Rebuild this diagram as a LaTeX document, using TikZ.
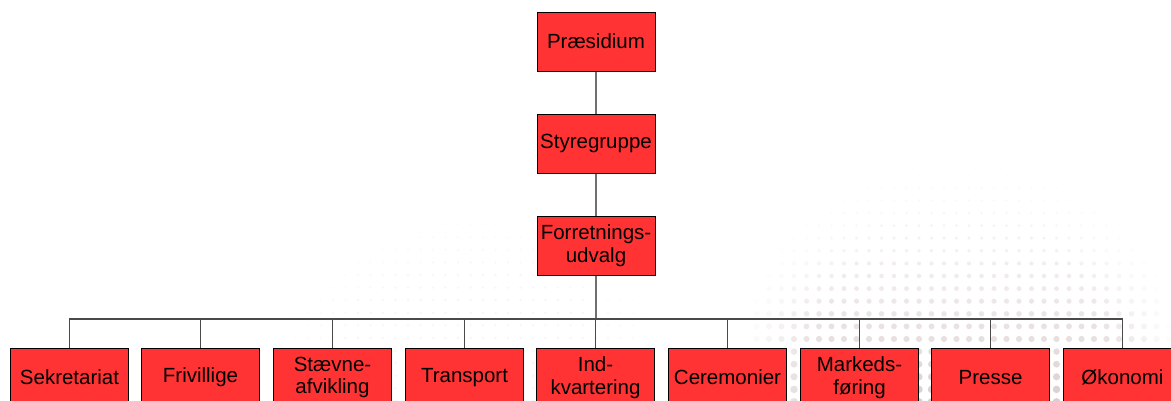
\documentclass[tikz,border=0pt]{standalone}
\usepackage{fontspec}
\setmainfont{Liberation Sans}
\definecolor{boxred}{HTML}{FF3333}
\definecolor{linegrey}{HTML}{4A4A4A}
\definecolor{stemgrey}{HTML}{707070}
\definecolor{dotcol}{HTML}{D8C8C8}
\definecolor{dotfaint}{HTML}{D8D8D8}
\tikzset{
  unit/.style={draw=black, line width=0.9pt, fill=boxred, minimum width=118pt,
    minimum height=59pt, inner sep=0pt, align=center,
    font=\fontsize{20.5}{22.5}\selectfont},
  link/.style={draw=linegrey, line width=1.2pt},
  stem/.style={draw=stemgrey, line width=1.4pt},
}
\begin{document}
\begin{tikzpicture}[x=1pt, y=-1pt]
\useasboundingbox (0,0) rectangle (1171,401);
\fill[white] (0,0) rectangle (1171,401);

% halftone dot field, lower right: dots grow and darken towards the bottom
\foreach \i in {0,...,35} {
  \foreach \j in {0,...,20} {
    \pgfmathsetmacro\px{744+12.5*\i}
    \pgfmathsetmacro\py{150+12.6*\j}
    \pgfmathsetmacro\dd{sqrt(((\px-960)/100)^2+((\py-361)/100)^2)/2.16}
    \ifdim\dd pt<1pt
      \pgfmathsetmacro\tt{(\py-150)/252}
      \pgfmathsetmacro\rr{0.6+3.3*\tt}
      \pgfmathsetmacro\op{min(1,(1-\dd)*3)*(0.15+0.75*\tt*\tt)}
      \fill[dotcol, opacity=\op] (\px,\py) circle[radius=\rr pt];
    \fi
  }
}
% very faint dot field, lower middle left
\foreach \i in {0,...,34} {
  \foreach \j in {0,...,15} {
    \pgfmathsetmacro\px{258+12.5*\i}
    \pgfmathsetmacro\py{212+12.6*\j}
    \pgfmathsetmacro\dd{sqrt(((\px-470)/100)^2+((\py-420)/100)^2)/2.1}
    \ifdim\dd pt<1pt
      \pgfmathsetmacro\op{min(0.22,(1-\dd)*0.8)}
      \fill[dotfaint, opacity=\op] (\px,\py) circle[radius=1.3pt];
    \fi
  }
}

% connectors are drawn first, boxes on top
\coordinate (bus) at (596,319);
\coordinate (p) at (596,41.5);
\coordinate (s) at (596,143.5);
\coordinate (f) at (596,245.5);
\draw[stem] (p) -- (s) -- (f) -- (bus);

% upper chain
\node[unit] (pres) at (p) {Præsidium};
\node[unit] (styr) at (s) {Styregruppe};
\node[unit] (forr) at (f) {Forretnings-\\udvalg};

% lower row
\node[unit] (c1) at (69.5,377.5) {Sekretariat};
\node[unit] (c2) at (200.5,377.5) {Frivillige};
\node[unit] (c3) at (332.5,377.5) {Stævne-\\afvikling};
\node[unit] (c4) at (464.5,377.5) {Transport};
\node[unit] (c5) at (595.5,377.5) {Ind-\\kvartering};
\node[unit] (c6) at (727.5,377.5) {Ceremonier};
\node[unit] (c7) at (859.5,377.5) {Markeds-\\føring};
\node[unit] (c8) at (990.5,377.5) {Presse};
\node[unit] (c9) at (1122.5,377.5) {Økonomi};

\foreach \k in {1,...,9} {
  \draw[link] (bus) -| (c\k.north);
}
\end{tikzpicture}
\end{document}
